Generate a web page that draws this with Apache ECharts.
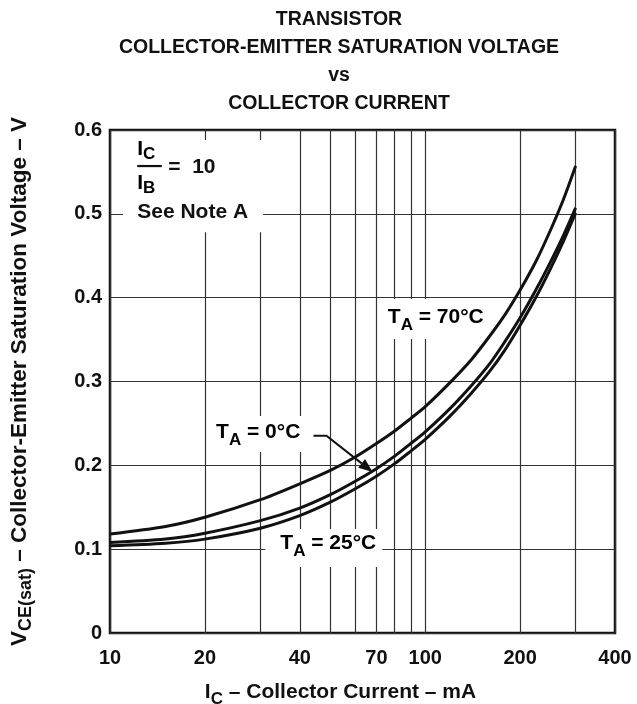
<!DOCTYPE html>
<html><head><meta charset="utf-8">
<script src="https://cdn.jsdelivr.net/npm/echarts@6/dist/echarts.min.js"></script>
<style>html,body{margin:0;padding:0;background:#fff}#c{width:637px;height:704px}</style>
</head><body><div id="c"></div>
<script>
// ---- data ----
const currents = [10, 15, 20, 30, 40, 50, 60, 70, 80, 90, 100, 120, 140, 160, 180, 200, 225, 250, 275, 300];   // mA
const vce70 = [0.118, 0.127, 0.138, 0.159, 0.178, 0.194, 0.210, 0.226, 0.241, 0.256, 0.270, 0.299, 0.326, 0.354, 0.381, 0.409, 0.444, 0.481, 0.518, 0.557];
const vce0  = [0.108, 0.112, 0.119, 0.134, 0.149, 0.165, 0.181, 0.196, 0.211, 0.226, 0.240, 0.268, 0.295, 0.321, 0.349, 0.376, 0.410, 0.443, 0.475, 0.507];
const vce25 = [0.104, 0.107, 0.112, 0.125, 0.140, 0.156, 0.172, 0.187, 0.202, 0.217, 0.231, 0.259, 0.286, 0.312, 0.339, 0.367, 0.401, 0.435, 0.468, 0.501];
const xTickLabels = [10, 20, 40, 70, 100, 200, 400];
const xGridValues = [10, 20, 30, 40, 50, 60, 70, 80, 90, 100, 200, 300, 400];
const yMin = 0, yMax = 0.6, yStep = 0.1;
const titleLines = ['TRANSISTOR', 'COLLECTOR-EMITTER SATURATION VOLTAGE', 'vs', 'COLLECTOR CURRENT'];

const FONT = "'Liberation Sans', Arial, Helvetica, sans-serif";
const INK = '#111';
function richSet(main, sub, pad) {
  return {
    m: {fontFamily: FONT, fontWeight: 'bold', fontSize: main, color: INK, lineHeight: main + 3, verticalAlign: 'top'},
    s: {fontFamily: FONT, fontWeight: 'bold', fontSize: sub, color: INK, lineHeight: sub + 1, verticalAlign: 'top', padding: [pad, 0, 0, 0]}
  };
}
function pairs(ys) { return currents.map((c, i) => [c, ys[i]]); }

const chart = echarts.init(document.getElementById('c'));
const curveStyle = {color: INK, width: 3};
const curve = (name, ys) => ({name, type: 'line', data: pairs(ys), smooth: 0.3,
  showSymbol: false, lineStyle: curveStyle, z: 3});
chart.setOption({
  animation: false,
  backgroundColor: '#fff',
  grid: {left: 110, right: 22, top: 130, bottom: 71, show: true, borderColor: INK, borderWidth: 2.5,
    backgroundColor: 'transparent', containLabel: false, outerBoundsMode: 'none'},
  xAxis: {
    type: 'log', logBase: 10, min: 10, max: 400,
    axisLine: {show: false},
    axisTick: {show: false, customValues: xGridValues},
    axisLabel: {customValues: xTickLabels, fontFamily: FONT, fontWeight: 'bold', fontSize: 20, color: INK, margin: 15},
    splitLine: {show: true, lineStyle: {color: '#333', width: 1.2}},
    name: '{m|I}{s|C}{m| – Collector Current – mA}',
    nameLocation: 'middle', nameGap: 49,
    nameTextStyle: {rich: richSet(21, 17, 9), padding: [0, 44, 0, 0]}
  },
  yAxis: {
    type: 'value', min: yMin, max: yMax, interval: yStep,
    axisLine: {show: false}, axisTick: {show: false},
    axisLabel: {fontFamily: FONT, fontWeight: 'bold', fontSize: 20, color: INK, margin: 8,
      formatter: v => (v === 0 ? '0' : v.toFixed(1))},
    splitLine: {show: true, lineStyle: {color: '#333', width: 1.2}},
    name: '{m|V}{s|CE(sat)}{m| – Collector-Emitter Saturation Voltage – V}',
    nameLocation: 'middle', nameRotate: 90, nameGap: 76,
    nameTextStyle: {rich: richSet(22.5, 18, 9)}
  },
  series: [curve('TA=70', vce70), curve('TA=0', vce0), curve('TA=25', vce25)]
});

// ---- annotations, anchored in data space ----
const P = (x, y) => chart.convertToPixel({gridIndex: 0}, [x, y]);
const rich21 = richSet(21, 17, 10);
function taLabel(x, y, txt, pad) {
  const p = P(x, y);
  return {type: 'text', x: p[0] - pad[3], y: p[1] - 12 - pad[0], z: 1,
    style: {text: '{m|T}{s|A}{m| = ' + txt + '}', rich: rich21, align: 'left', verticalAlign: 'top',
      backgroundColor: '#fff', padding: pad}};
}
const g = [];
titleLines.forEach((t, i) => {
  g.push({type: 'text', x: 339, y: 10 + i * 28, style: {text: t, font: 'bold 19.5px ' + FONT, fill: INK, align: 'center', verticalAlign: 'top'}});
});
// Ic/Ib = 10 block
const bgA = P(11.0, 0.588), bgB = P(30.6, 0.478);
g.push({type: 'rect', z: 1, shape: {x: bgA[0], y: bgA[1], width: bgB[0] - bgA[0], height: bgB[1] - bgA[1]}, style: {fill: '#fff'}});
const ic = P(12.2, 0.578), ib = P(12.2, 0.537), fl = P(12.2, 0.557), fr = P(14.6, 0.557), eq = P(15.3, 0.556), note = P(12.2, 0.5016);
g.push({type: 'text', z: 2, x: ic[0], y: ic[1] - 10, style: {text: '{m|I}{s|C}', rich: richSet(21, 17, 7), align: 'left', verticalAlign: 'top'}});
g.push({type: 'text', z: 2, x: ib[0], y: ib[1] - 10, style: {text: '{m|I}{s|B}', rich: richSet(21, 17, 7), align: 'left', verticalAlign: 'top'}});
g.push({type: 'line', z: 2, shape: {x1: fl[0], y1: fl[1], x2: fr[0], y2: fr[1]}, style: {stroke: INK, lineWidth: 2.2}});
g.push({type: 'text', z: 2, x: eq[0], y: eq[1], style: {text: '=  10', font: 'bold 21px ' + FONT, fill: INK, align: 'left', verticalAlign: 'middle'}});
g.push({type: 'text', z: 2, x: note[0], y: note[1], style: {text: 'See Note A', font: 'bold 21px ' + FONT, fill: INK, align: 'left', verticalAlign: 'middle'}});
// T_A labels
g.push(taLabel(76.1, 0.3746, '70°C', [8, 6, 8, 6]));
g.push(taLabel(21.7, 0.2374, '0°C', [6, 6, 6, 6]));
g.push(taLabel(34.7, 0.105, '25°C', [4, 6, 10, 15]));
// arrow to the 0 °C curve
const a0 = P(44.2, 0.2354), a1 = P(48.6, 0.2354), tip = P(68.1, 0.192);
const dx = tip[0] - a1[0], dy = tip[1] - a1[1], len = Math.hypot(dx, dy), ux = dx / len, uy = dy / len;
const hl = 14, hw = 5.5;
const base = [tip[0] - ux * hl, tip[1] - uy * hl];
g.push({type: 'polyline', z: 4, shape: {points: [a0, a1, base]}, style: {stroke: INK, lineWidth: 2, fill: null}});
g.push({type: 'polygon', z: 4, shape: {points: [tip, [base[0] - uy * hw, base[1] + ux * hw], [base[0] + uy * hw, base[1] - ux * hw]]}, style: {fill: INK}});
chart.setOption({graphic: g});
</script>
</body></html>
